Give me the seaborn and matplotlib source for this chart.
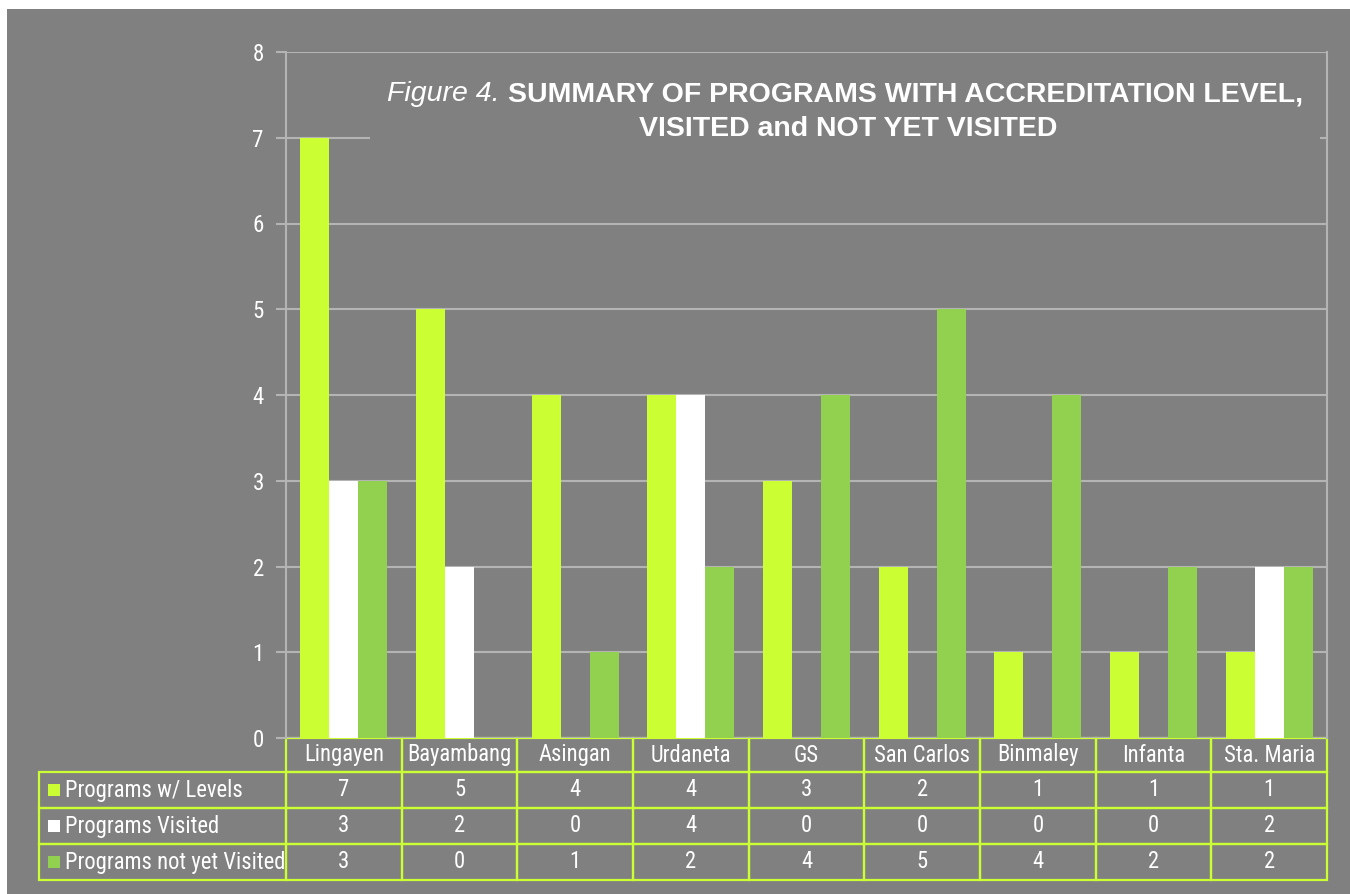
import matplotlib
matplotlib.use("Agg")
import matplotlib.pyplot as plt
import seaborn as sns
import pandas as pd
from matplotlib.patches import Rectangle

# data
campuses = ["Lingayen", "Bayambang", "Asingan", "Urdaneta", "GS",
            "San Carlos", "Binmaley", "Infanta", "Sta. Maria"]
with_levels = [7, 5, 4, 4, 3, 2, 1, 1, 1]
visited = [3, 2, 0, 4, 0, 0, 0, 0, 2]
not_visited = [3, 0, 1, 2, 4, 5, 4, 2, 2]
series_names = ["Programs w/ Levels", "Programs Visited", "Programs not yet Visited"]
colors = ["#CCFF33", "#FFFFFF", "#92D050"]

bg = "#808080"
grid_c = "#B4B4B4"
lime = "#CCFF33"

df = pd.DataFrame({
    "Campus": campuses * 3,
    "Count": with_levels + visited + not_visited,
    "Series": [s for s in series_names for _ in campuses],
})

sns.set_style("white")
plt.rcParams['font.family'] = ['Roboto Condensed', 'DejaVu Sans']
title_font = ['Liberation Sans', 'DejaVu Sans']

W, H = 1350, 894
fig = plt.figure(figsize=(W / 100, H / 100), dpi=100)
fig.patch.set_facecolor("white")
fig.patches.append(Rectangle((7 / W, 0), 1, 1 - 9 / H, transform=fig.transFigure,
                             facecolor=bg, edgecolor="none", zorder=-10))

ax_l, ax_r, ax_t, ax_b = 286, 1327, 52, 738
ax = fig.add_axes([ax_l / W, 1 - ax_b / H, (ax_r - ax_l) / W, (ax_b - ax_t) / H])
ax.set_facecolor(bg)

sns.barplot(data=df, x="Campus", y="Count", hue="Series", palette=colors,
            width=0.75, saturation=1, linewidth=0, legend=False, ax=ax)

ax.set_ylim(0, 8)
ax.set_xlim(-0.5, len(campuses) - 0.5)
ax.set_yticks(range(0, 9))
ax.set_axisbelow(True)
ax.yaxis.grid(True, color=grid_c, linewidth=1.5)
ax.xaxis.grid(False)
ax.set_xlabel("")
ax.set_ylabel("")
ax.tick_params(axis="x", bottom=False, labelbottom=False)
ax.tick_params(axis="y", left=True, length=7, width=1.5, color=grid_c,
               labelcolor="white", labelsize=16.5, pad=9)
for side in ["left", "right"]:
    ax.spines[side].set_color(grid_c)
    ax.spines[side].set_linewidth(1.5)
ax.spines["top"].set_visible(False)
ax.spines["bottom"].set_visible(False)

# data table under the axis (bbox covers the data columns, row labels hang left)
aw, ah = ax_r - ax_l, ax_b - ax_t
lab_w, col_w = 247, aw / len(campuses)
head_h, row_h = 34, 36
tab_h = head_h + 3 * row_h
cell_text = [[str(v) for v in s] for s in (with_levels, visited, not_visited)]
tbl = ax.table(cellText=cell_text, rowLabels=series_names, colLabels=campuses,
               cellLoc="center", rowLoc="left",
               bbox=[0, -tab_h / ah, 1, tab_h / ah])
tbl.auto_set_font_size(False)
if hasattr(tbl, "_autoColumns"):
    tbl._autoColumns = []  # fixed width for the row label column
for (r, c), cell in tbl.get_celld().items():
    cell.set_edgecolor(lime)
    cell.set_linewidth(1.6)
    cell.set_facecolor("none")
    cell.get_text().set_color("white")
    cell.get_text().set_fontsize(16.3)
    cell.set_width(lab_w if c == -1 else col_w)
    cell.set_height(head_h if r == 0 else row_h)
    if c == -1:
        cell.PAD = 0.105

# legend keys inside the row labels
for i, col in enumerate(colors):
    yc = head_h + row_h * i + row_h / 2
    ax.add_patch(Rectangle(((48 - ax_l) / aw, -(yc + 6) / ah), 12 / aw, 12 / ah,
                           transform=ax.transAxes, facecolor=col, edgecolor="none",
                           clip_on=False))

# title box covering the grid
ax.add_patch(Rectangle(((370 - ax_l) / aw, 1 - (180 - ax_t) / ah), (1320 - 370) / aw,
                       (180 - 65) / ah, transform=ax.transAxes, facecolor=bg,
                       edgecolor="none", zorder=0.8))

fs = 20.5
t1 = fig.text(0, 1 - 101 / H, "Figure 4. ", style="italic", color="white",
              fontsize=fs, family=title_font, ha="left", va="baseline")
t2 = fig.text(0, 1 - 101 / H, "SUMMARY OF PROGRAMS WITH ACCREDITATION LEVEL,",
              weight="bold", color="white", fontsize=fs, family=title_font,
              ha="left", va="baseline")
fig.canvas.draw()
r = fig.canvas.get_renderer()
w1 = t1.get_window_extent(r).width
w2 = t2.get_window_extent(r).width
x0 = 845 - (w1 + w2) / 2
t1.set_x(x0 / W)
t2.set_x((x0 + w1) / W)
fig.text(848 / W, 1 - 136 / H, "VISITED and NOT YET VISITED", weight="bold",
         color="white", fontsize=fs, family=title_font, ha="center", va="baseline")

fig.savefig("out.png", dpi=100, facecolor=fig.get_facecolor())
